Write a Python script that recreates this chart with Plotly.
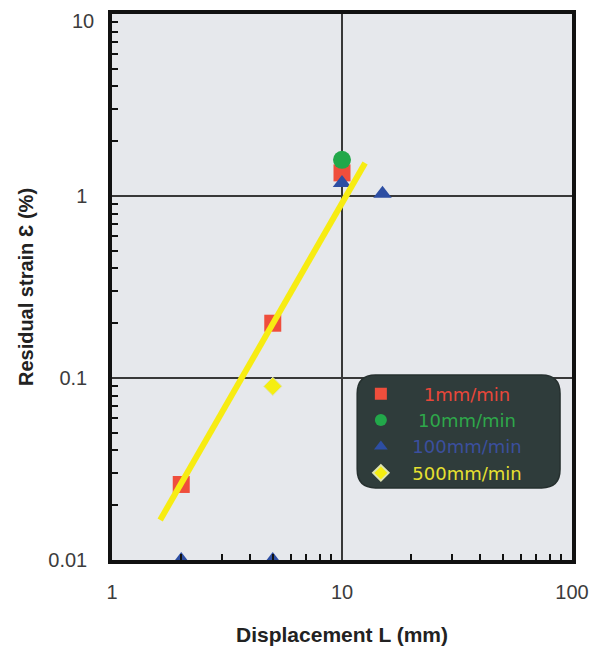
import plotly.graph_objects as go

# ---- data ----
x_1mm = [2, 5, 10]
y_1mm = [0.026, 0.20, 1.34]
x_10mm = [10]
y_10mm = [1.58]
x_100mm = [2, 5, 10, 15]
y_100mm = [0.01, 0.01, 1.18, 1.03]
x_500mm = [5]
y_500mm = [0.09]
fit_x = [1.62, 12.6]
fit_y = [0.0166, 1.52]

x_ticks = [1, 10, 100]
x_ticktext = ["1", "10", "100"]
y_ticks = [0.01, 0.1, 1, 10]
y_ticktext = ["0.01", "0.1", "1", "10"]

minor_x = [2, 3, 4, 5, 6, 7, 8, 9, 20, 30, 40, 50, 60, 70, 80, 90]
minor_y = [0.02, 0.03, 0.04, 0.05, 0.06, 0.07, 0.08, 0.09,
           0.2, 0.3, 0.4, 0.5, 0.6, 0.7, 0.8, 0.9,
           2, 3, 4, 5, 6, 7, 8, 9]

FONT = "Liberation Sans, Arial, sans-serif"
LFONT = "DejaVu Sans, sans-serif"
NB = "&nbsp;"

fig = go.Figure()

fig.add_trace(go.Scatter(x=x_1mm, y=y_1mm, mode="markers",
                         name=f'<span style="color:#e8473a">{NB*4}1mm/min</span>',
                         marker=dict(symbol="square", size=17, color="#ef4e3c"),
                         cliponaxis=False))
fig.add_trace(go.Scatter(x=x_10mm, y=y_10mm, mode="markers",
                         name=f'<span style="color:#2ea84a">{NB*3}10mm/min</span>',
                         marker=dict(symbol="circle", size=18, color="#22a84a"),
                         cliponaxis=False))
fig.add_trace(go.Scatter(x=x_100mm, y=y_100mm, mode="markers",
                         name=f'<span style="color:#3b4f9e">{NB*2}100mm/min</span>',
                         marker=dict(symbol="triangle-up", size=16, color="#2d4ea3"),
                         cliponaxis=False))
fig.add_trace(go.Scatter(x=x_500mm, y=y_500mm, mode="markers",
                         name=f'<span style="color:#e6e030">{NB*2}500mm/min</span>',
                         marker=dict(symbol="diamond", size=14, color="#f5ee10",
                                     line=dict(color="#dde3b0", width=1)),
                         cliponaxis=False))

fig.add_trace(go.Scatter(x=fit_x, y=fit_y, mode="lines",
                         line=dict(color="#f7ec12", width=6),
                         showlegend=False, hoverinfo="skip"))

# rounded legend box (paper coords)
x0, x1, y0, y1 = 0.533, 0.974, 0.132, 0.339
rx, ry = 0.04, 0.034
path = (f"M {x0+rx},{y0} L {x1-rx},{y0} Q {x1},{y0} {x1},{y0+ry} "
        f"L {x1},{y1-ry} Q {x1},{y1} {x1-rx},{y1} "
        f"L {x0+rx},{y1} Q {x0},{y1} {x0},{y1-ry} "
        f"L {x0},{y0+ry} Q {x0},{y0} {x0+rx},{y0} Z")
fig.add_shape(type="path", path=path, xref="paper", yref="paper",
              fillcolor="#2f3c3b", line=dict(color="#26302f", width=1.5),
              layer="above")

axis_font = dict(family=FONT, size=20, color="#3c3c3c")

# top y label sits at the very edge of the figure; draw it as an annotation
# nudged just inside so it is not clipped
y_labels_axis = y_ticktext[:-1] + [""]
fig.add_annotation(text=y_ticktext[-1], xref="paper", yref="paper",
                   x=0, y=1, xanchor="right", yanchor="top",
                   xshift=-16, yshift=6, showarrow=False, font=axis_font)

# the page body adds an 8px offset; width/height/margins compensate so the
# plot area lands where the reference has it
fig.update_layout(
    width=590, height=642,
    margin=dict(l=104, r=26, t=6, b=90, autoexpand=False),
    paper_bgcolor="white",
    plot_bgcolor="#e6e8ec",
    showlegend=True,
    legend=dict(x=0.541, y=0.338, xanchor="left", yanchor="top",
                bgcolor="rgba(0,0,0,0)", borderwidth=0,
                font=dict(family=LFONT, size=18),
                itemsizing="constant", tracegroupgap=0),
    xaxis=dict(type="log", range=[0, 2], automargin=False,
               tickvals=x_ticks, ticktext=x_ticktext,
               ticks="inside", ticklen=0, ticklabeloverflow="allow",
               tickfont=axis_font, ticklabelstandoff=11,
               showgrid=True, gridcolor="#383838", gridwidth=2,
               showline=True, linecolor="#111111", linewidth=3.5, mirror=True,
               zeroline=False,
               minor=dict(tickvals=minor_x, ticks="inside", ticklen=6,
                          tickcolor="#111111", tickwidth=1.5, showgrid=False),
               title=dict(text="<b>Displacement L (mm)</b>", standoff=27,
                          font=dict(family=FONT, size=21, color="#222222"))),
    yaxis=dict(type="log", range=[-2, 1], automargin=False,
               tickvals=y_ticks, ticktext=y_labels_axis,
               ticks="inside", ticklen=0, ticklabeloverflow="allow",
               tickfont=axis_font, ticklabelstandoff=17,
               showgrid=True, gridcolor="#383838", gridwidth=2,
               showline=True, linecolor="#111111", linewidth=3.5, mirror=True,
               zeroline=False,
               minor=dict(tickvals=minor_y, ticks="inside", ticklen=6,
                          tickcolor="#111111", tickwidth=1.5, showgrid=False),
               title=dict(text="<b>Residual strain Ɛ (%)</b>", standoff=10,
                          font=dict(family=FONT, size=20, color="#222222"))),
)

fig.write_html("out.html")
